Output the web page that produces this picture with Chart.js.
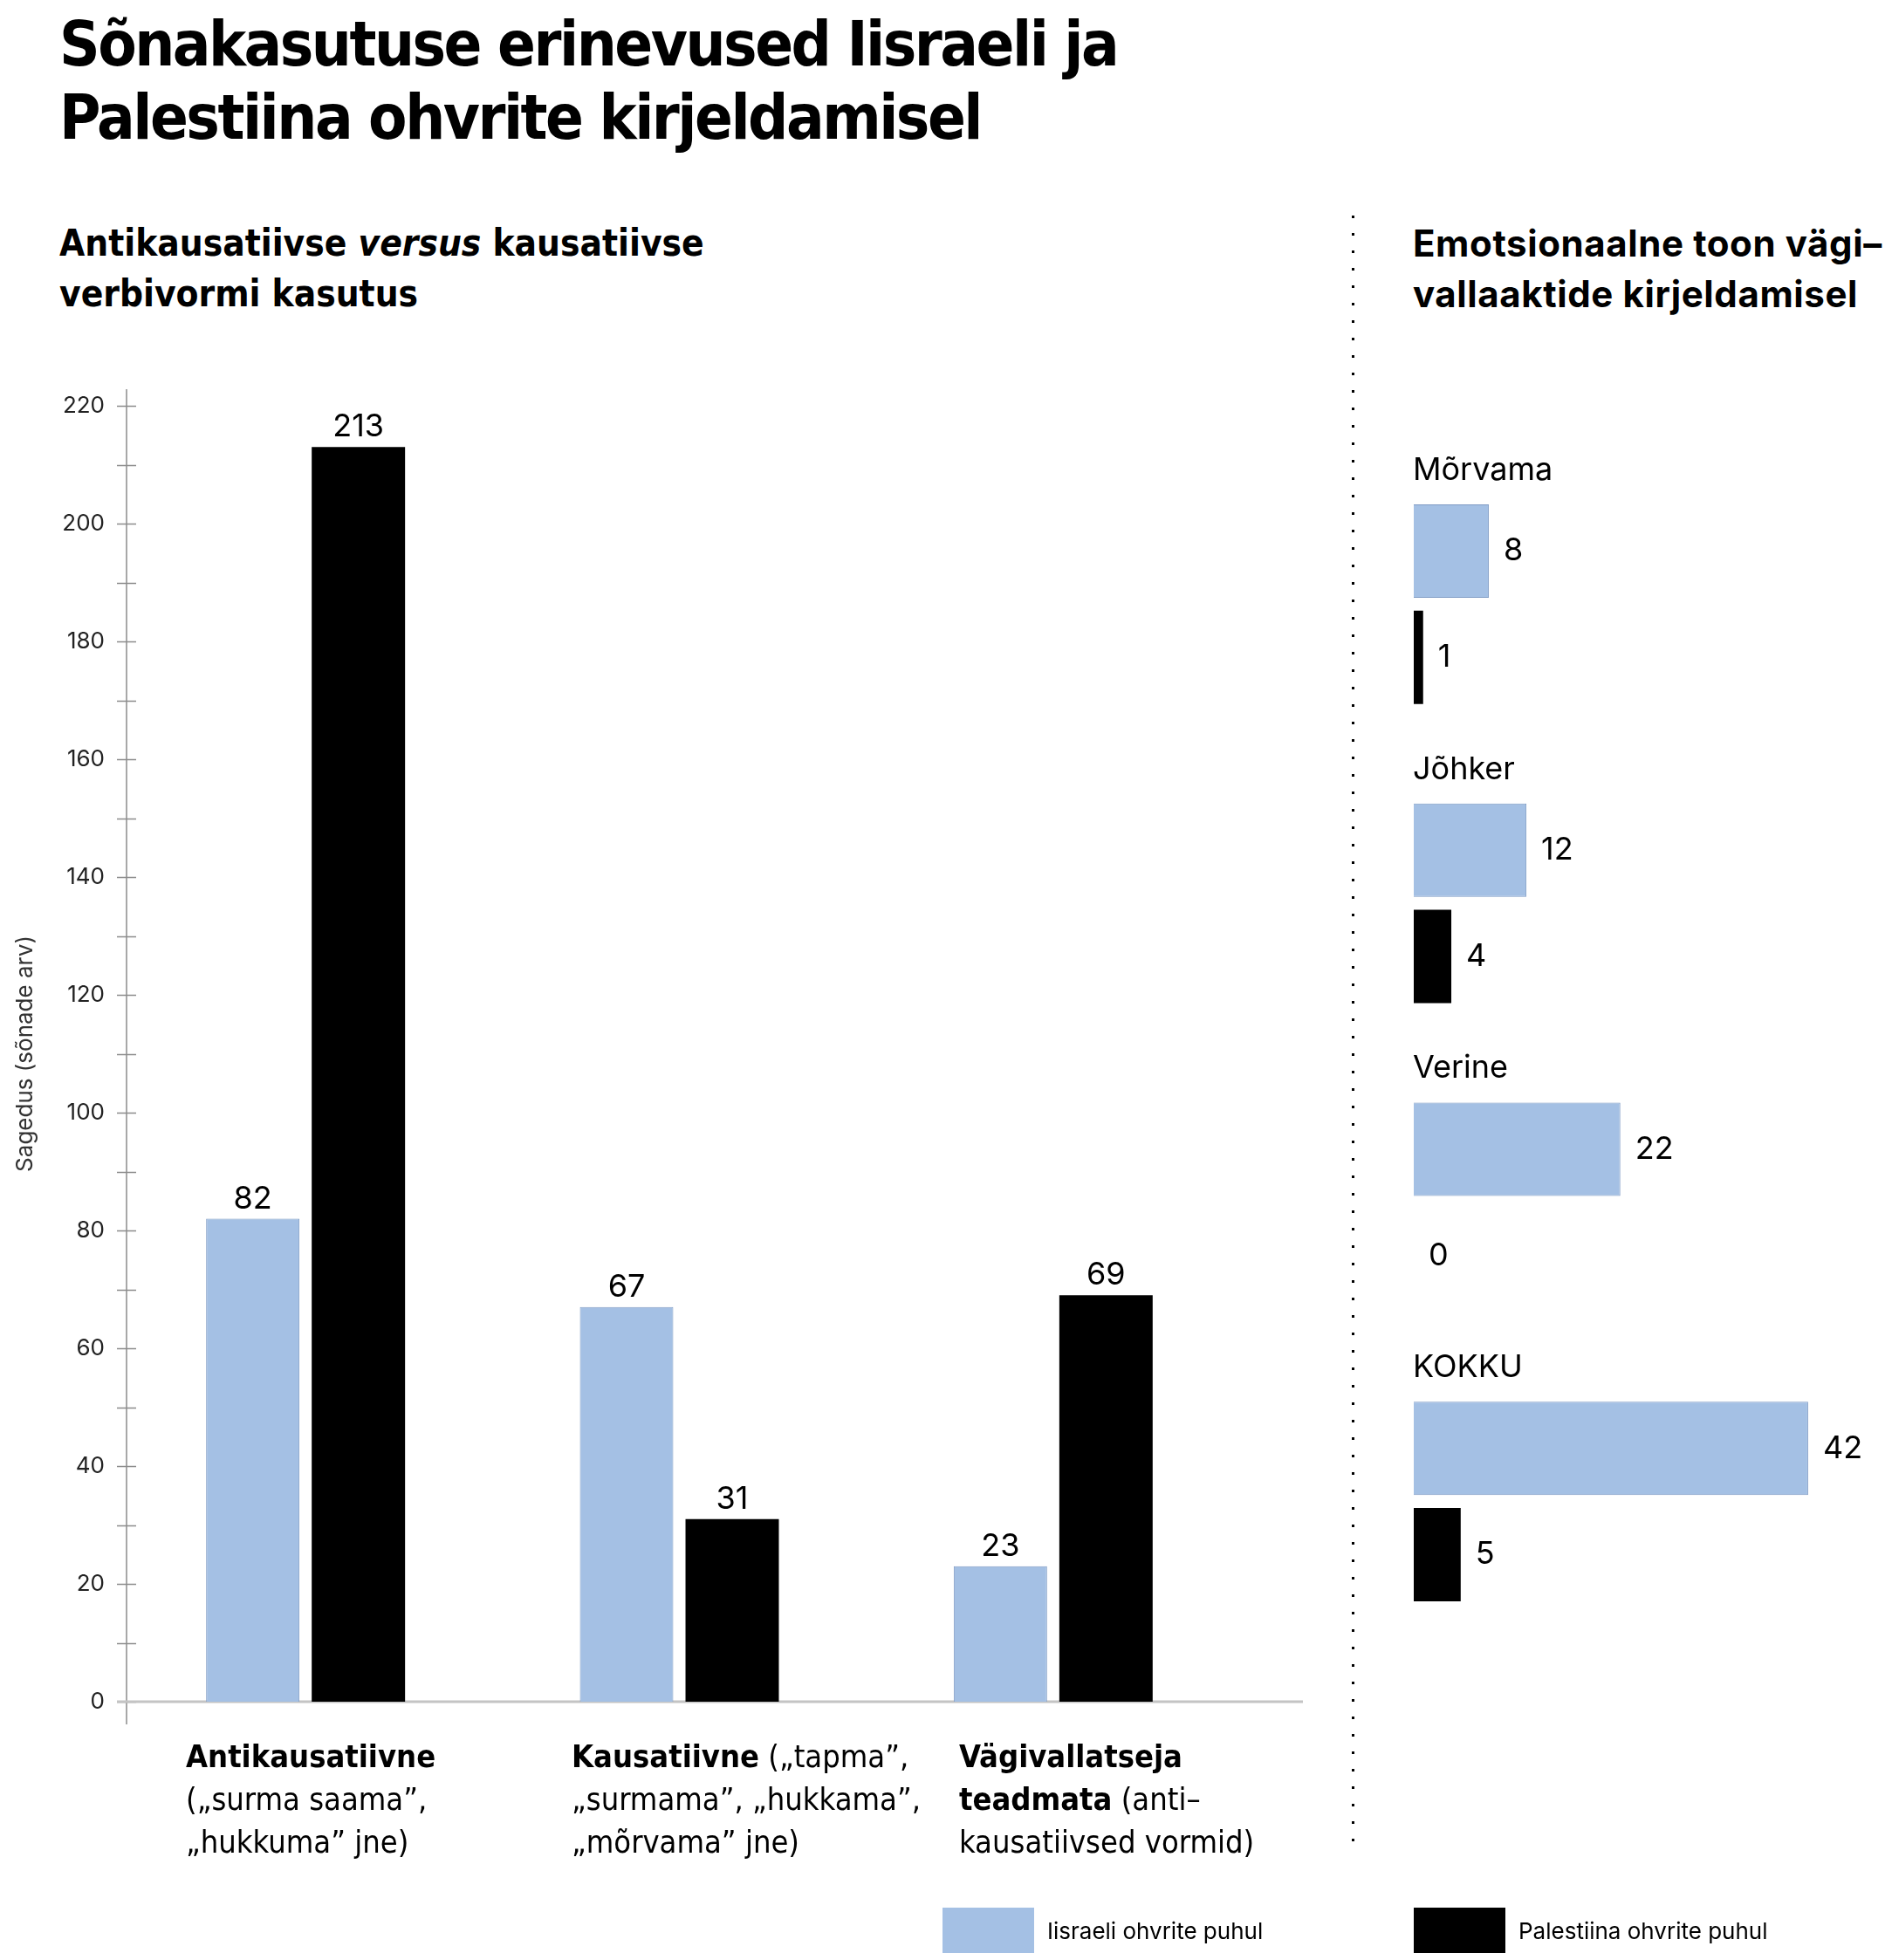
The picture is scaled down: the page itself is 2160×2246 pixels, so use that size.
<!DOCTYPE html>
<html>
<head>
<meta charset="utf-8">
<title>Sõnakasutuse erinevused</title>
<script src="https://cdn.jsdelivr.net/npm/chart.js@4.4.0/dist/chart.umd.min.js"></script>
<style>
html, body { margin: 0; padding: 0; background: #fff; }
body { width: 2160px; height: 2246px; position: relative; overflow: hidden; color: #000; font-family: Inter, "Noto Sans", sans-serif; }
.abs { position: absolute; }
#title { left: 68px; top: 8px; font: 700 72px/84px "Liberation Sans Narrow", "DejaVu Sans Condensed", sans-serif; letter-spacing: -2.5px; }
.sub { top: 250px; font-weight: 700; font-size: 42px; line-height: 58px; }
#subLeft { left: 68px; font-family: "Liberation Sans Narrow", "DejaVu Sans Condensed", sans-serif; }
#subRight { left: 1619px; font-family: Inter, sans-serif; font-size: 42px; letter-spacing: 0.6px; }
#dots { left: 1549px; top: 247px; width: 3px; height: 1868px;
  background: repeating-linear-gradient(to bottom, #000 0 3px, transparent 3px 20px); }
canvas { position: absolute; top: 0; }
#left { left: 0; }
#right { left: 1560px; }
.cat { top: 1988px; font: 400 36px/49px "Liberation Sans Narrow", "DejaVu Sans Condensed", sans-serif; white-space: nowrap; }
.cat b { font-weight: 700; }
.leg { top: 2186px; height: 52px; display: flex; align-items: center; font: 400 26px Inter, sans-serif; }
.leg span.sw { width: 105px; height: 52px; margin-right: 15px; display: inline-block; }
</style>
</head>
<body>
<div id="title" class="abs">Sõnakasutuse erinevused Iisraeli ja<br>Palestiina ohvrite kirjeldamisel</div>
<div id="subLeft" class="abs sub">Antikausatiivse <i>versus</i> kausatiivse<br>verbivormi kasutus</div>
<div id="subRight" class="abs sub">Emotsionaalne toon vägi–<br>vallaaktide kirjeldamisel</div>
<div id="dots" class="abs"></div>
<canvas id="left" width="1540" height="2246"></canvas>
<canvas id="right" width="600" height="2246"></canvas>
<div id="cats"></div>
<div id="legend"></div>
<script>
// ── data ─────────────────────────────────────────────────────────────
const verbCats = ['Antikausatiivne', 'Kausatiivne', 'Vägivallatseja teadmata'];
const verbIsrael = [82, 67, 23];
const verbPalestine = [213, 31, 69];
const yTicks = [0, 20, 40, 60, 80, 100, 120, 140, 160, 180, 200, 220];

const catLines = [
  ['<b>Antikausatiivne</b>', '(„surma saama”,', '„hukkuma” jne)'],
  ['<b>Kausatiivne</b> („tapma”,', '„surmama”, „hukkama”,', '„mõrvama” jne)'],
  ['<b>Vägivallatseja</b>', '<b>teadmata</b> (anti–', 'kausatiivsed vormid)'],
];

const emoCats = ['Mõrvama', 'Jõhker', 'Verine', 'KOKKU'];
const emoIsrael = [8, 12, 22, 42];
const emoPalestine = [1, 4, 0, 5];

const seriesNames = ['Iisraeli ohvrite puhul', 'Palestiina ohvrite puhul'];

// ── style ────────────────────────────────────────────────────────────
const BLUE = '#a4c0e4';
const BLUE_EDGE = '#7f9bc4';
const BLACK = '#000000';
const NUM_FONT = '400 36px Inter, "Noto Sans", sans-serif';
const catLabelX = [213, 655, 1099];

// category labels + legend (html, mixed bold/regular)
document.getElementById('cats').innerHTML = catLines.map((lines, i) =>
  `<div class="abs cat" style="left:${catLabelX[i]}px">${lines.join('<br>')}</div>`).join('');
const legX = [1080, 1620];
const legCol = [BLUE, BLACK];
document.getElementById('legend').innerHTML = seriesNames.map((n, i) =>
  `<div class="abs leg" style="left:${legX[i]}px"><span class="sw" style="background:${legCol[i]}"></span>${n}</div>`).join('');

// ── left chart helpers ───────────────────────────────────────────────
const leftAxes = {
  id: 'leftAxes',
  beforeDatasetsDraw(chart) {
    const { ctx, chartArea: a, scales: { y } } = chart;
    const ax = a.left + 9;
    ctx.save();
    ctx.strokeStyle = '#8c8c8c';
    ctx.lineWidth = 1.5;
    ctx.beginPath();
    ctx.moveTo(ax, a.top - 19);
    ctx.lineTo(ax, a.bottom + 26);
    for (let v = y.min; v <= y.max; v += 10) {
      const py = Math.round(y.getPixelForValue(v)) + 0.5;
      ctx.moveTo(ax - 11, py);
      ctx.lineTo(ax + 11, py);
    }
    ctx.stroke();
    ctx.strokeStyle = '#c4c4c4';
    ctx.lineWidth = 3;
    const y0 = y.getPixelForValue(0);
    ctx.beginPath();
    ctx.moveTo(a.left - 2, y0);
    ctx.lineTo(a.right + 72, y0);
    ctx.stroke();
    ctx.restore();
  },
  afterDatasetsDraw(chart) {
    const { ctx } = chart;
    ctx.save();
    ctx.font = NUM_FONT;
    ctx.fillStyle = '#000';
    ctx.textAlign = 'center';
    ctx.textBaseline = 'alphabetic';
    chart.data.datasets.forEach((ds, di) => {
      chart.getDatasetMeta(di).data.forEach((bar, i) => {
        ctx.fillText(String(ds.data[i]), bar.x, bar.y - 12);
      });
    });
    ctx.restore();
  }
};

new Chart(document.getElementById('left'), {
  type: 'bar',
  data: {
    labels: verbCats,
    datasets: [
      { label: seriesNames[0], data: verbIsrael, backgroundColor: BLUE, borderColor: BLUE_EDGE, borderWidth: 1 },
      { label: seriesNames[1], data: verbPalestine, backgroundColor: BLACK, borderWidth: 0 },
    ]
  },
  options: {
    responsive: false, animation: false, devicePixelRatio: 1,
    layout: { padding: { top: 465, bottom: 296, left: 0, right: 119 } },
    datasets: { bar: { categoryPercentage: 0.565, barPercentage: 0.884 } },
    plugins: { legend: { display: false }, tooltip: { enabled: false } },
    scales: {
      x: { display: false },
      y: {
        min: 0, max: 220,
        afterFit(s) { s.width = 136; },
        afterBuildTicks(s) { s.ticks = yTicks.map(v => ({ value: v })); },
        border: { display: false },
        grid: { display: false, drawTicks: false },
        ticks: { padding: 16, color: '#222', font: { family: 'Inter, sans-serif', size: 26 } },
        title: { display: true, text: 'Sagedus (sõnade arv)', color: '#333', padding: { top: 14, bottom: 0 },
          font: { family: 'Inter, sans-serif', size: 26 } }
      }
    }
  },
  plugins: [leftAxes]
});

// ── right chart ──────────────────────────────────────────────────────
const rightLabels = {
  id: 'rightLabels',
  afterDatasetsDraw(chart) {
    const { ctx, chartArea: a } = chart;
    ctx.save();
    ctx.font = NUM_FONT;
    ctx.fillStyle = '#000';
    ctx.textBaseline = 'middle';
    ctx.textAlign = 'left';
    chart.data.datasets.forEach((ds, di) => {
      chart.getDatasetMeta(di).data.forEach((bar, i) => {
        ctx.fillText(String(ds.data[i]), bar.x + 17, bar.y);
      });
    });
    ctx.font = '400 36px Inter, "Noto Sans", sans-serif';
    const blue = chart.getDatasetMeta(0).data;
    chart.data.labels.forEach((lab, i) => {
      const top = blue[i].y - blue[i].height / 2;
      ctx.fillText(lab, a.left - 1, top - 39);
    });
    ctx.restore();
  }
};

new Chart(document.getElementById('right'), {
  type: 'bar',
  data: {
    labels: emoCats,
    datasets: [
      { label: seriesNames[0], data: emoIsrael, backgroundColor: BLUE, borderColor: BLUE_EDGE, borderWidth: 1 },
      { label: seriesNames[1], data: emoPalestine, backgroundColor: BLACK, borderWidth: 0 },
    ]
  },
  options: {
    indexAxis: 'y',
    responsive: false, animation: false, devicePixelRatio: 1,
    layout: { padding: { top: 521, bottom: 354, left: 60, right: 2 } },
    datasets: { bar: { categoryPercentage: 0.71, barPercentage: 0.88 } },
    plugins: { legend: { display: false }, tooltip: { enabled: false } },
    scales: {
      x: { display: false, min: 0, max: 50 },
      y: { display: false }
    }
  },
  plugins: [rightLabels]
});
</script>
</body>
</html>
